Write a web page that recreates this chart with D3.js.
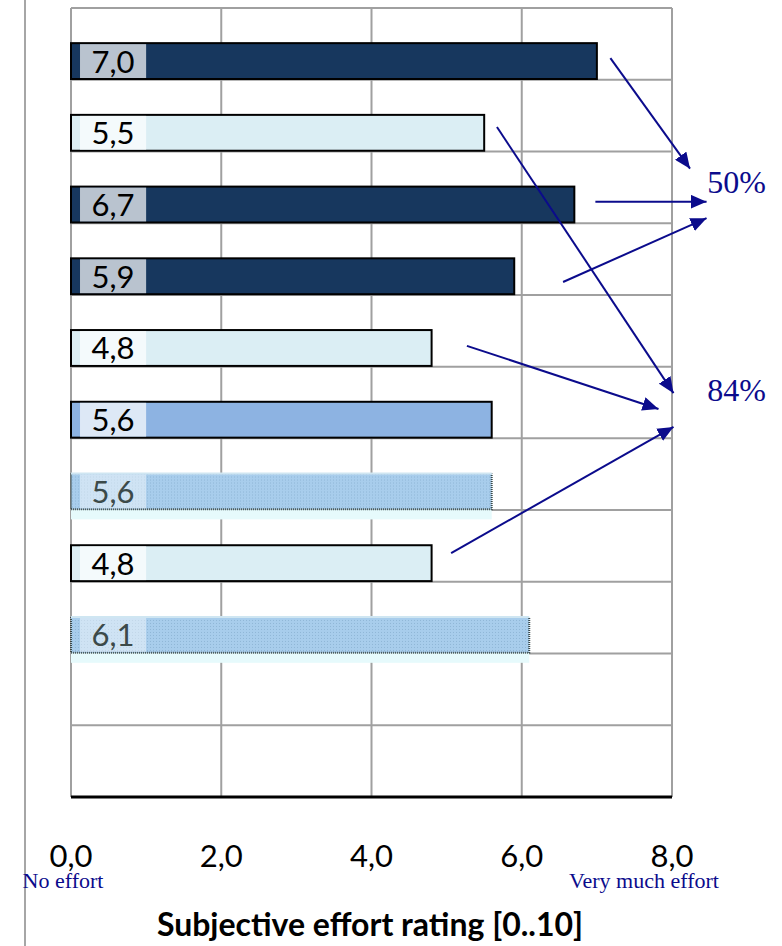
<!DOCTYPE html>
<html>
<head>
<meta charset="utf-8">
<script src="https://cdn.jsdelivr.net/npm/d3@7"></script>
<style>
  body { margin: 0; background: #fff; }
  svg { display: block; }
</style>
</head>
<body>
<script>
// bar values, top to bottom
const values = [7.0, 5.5, 6.7, 5.9, 4.8, 5.6, 5.6, 4.8, 6.1];
// fill style of each bar
const kinds = ["dark", "light", "dark", "dark", "light", "medium", "pattern", "light", "pattern"];
const rowCount = 11; // two empty rows at the bottom
const ticks = [0, 2, 4, 6, 8];
const tickLabels = ["0,0", "2,0", "4,0", "6,0", "8,0"];
// arrows: from [value, row] to [value, row]
const arrows = [
  [[7.18, 0.70], [8.24, 2.24]],
  [[6.98, 2.70], [8.46, 2.70]],
  [[6.55, 3.82], [8.46, 2.93]],
  [[5.67, 1.66], [8.02, 5.37]],
  [[5.27, 4.71], [7.82, 5.59]],
  [[5.06, 7.60], [8.02, 5.84]]
];
const percents = [["50%", 8.47, 2.58], ["84%", 8.47, 5.48]];

const width = 782, height = 946;
const navy = "#0b0b8c";
const fills = { dark: "#17375e", light: "#dbeef4", medium: "#8db3e2", pattern: "url(#dots)" };

const svg = d3.select("body").append("svg")
  .attr("width", width).attr("height", height);

const defs = svg.append("defs");
const pat = defs.append("pattern").attr("id", "dots")
  .attr("width", 3).attr("height", 3).attr("patternUnits", "userSpaceOnUse");
pat.append("rect").attr("width", 3).attr("height", 3).attr("fill", "#a8cdec");
pat.append("rect").attr("width", 1).attr("height", 1).attr("fill", "#8fb6d6");
defs.append("marker").attr("id", "head")
  .attr("viewBox", "0 0 16 14").attr("refX", 16).attr("refY", 7)
  .attr("markerWidth", 16).attr("markerHeight", 14)
  .attr("markerUnits", "userSpaceOnUse").attr("orient", "auto")
  .append("path").attr("d", "M0,0L16,7L0,14Z").attr("fill", navy);

const x = d3.scaleLinear().domain([0, 8]).range([71, 672]);
const y = d3.scaleBand().domain(d3.range(rowCount)).range([8, 797]);
const yr = d3.scaleLinear().domain([0, rowCount]).range([8, 797]);
const bw = y.bandwidth();

// left page line
svg.append("line").attr("x1", 25).attr("x2", 25).attr("y1", 0).attr("y2", height)
  .attr("stroke", "#a6a6a6").attr("stroke-width", 2);

// grid
const grid = svg.append("g").attr("stroke", "#a0a0a0").attr("stroke-width", 2);
grid.selectAll(".h").data(d3.range(rowCount)).join("line")
  .attr("x1", x(0)).attr("x2", x(8))
  .attr("y1", d => y(d)).attr("y2", d => y(d));
grid.selectAll(".v").data(ticks).join("line")
  .attr("x1", d => x(d)).attr("x2", d => x(d))
  .attr("y1", y(0)).attr("y2", y.range()[1]);

// bars
const bars = svg.append("g").selectAll("g").data(values).join("g")
  .attr("transform", (d, i) => `translate(0,${y(i) + bw * 0.49})`);
const bh = bw * 0.5;

bars.filter((d, i) => kinds[i] === "pattern").append("rect")
  .attr("x", x(0)).attr("y", bh).attr("width", d => x(d) - x(0)).attr("height", 10)
  .attr("fill", "#e6fafc");
bars.append("rect")
  .attr("x", x(0)).attr("y", 0)
  .attr("width", d => x(d) - x(0)).attr("height", bh)
  .attr("fill", (d, i) => fills[kinds[i]])
  .attr("stroke", (d, i) => kinds[i] === "pattern" ? "none" : "#000")
  .attr("stroke-width", 2);
const pb = bars.filter((d, i) => kinds[i] === "pattern");
pb.append("path")
  .attr("d", d => `M${x(0)},0V${bh}H${x(d)}V0`)
  .attr("fill", "none").attr("stroke", "#3a4a4a").attr("stroke-width", 2)
  .attr("stroke-dasharray", "1,1");
pb.append("line").attr("x1", x(0)).attr("x2", d => x(d)).attr("y1", 0).attr("y2", 0)
  .attr("stroke", "#cfe6f2").attr("stroke-width", 2);

// value labels
bars.append("rect")
  .attr("x", x(0.12)).attr("y", 1).attr("width", x(1.0) - x(0.12)).attr("height", bh - 2)
  .attr("fill", "#fff").attr("fill-opacity", (d, i) => kinds[i] === "pattern" ? 0.45 : 0.7);
bars.append("text")
  .attr("x", x(0.56)).attr("y", bh / 2 + 11.5)
  .attr("text-anchor", "middle")
  .attr("font-family", "Lato, sans-serif").attr("font-size", 31)
  .attr("fill", (d, i) => kinds[i] === "pattern" ? "#3c4a4a" : "#000")
  .text(d => d.toFixed(1).replace(".", ","));

// axis
svg.append("line").attr("x1", x(0)).attr("x2", x(8))
  .attr("y1", 797).attr("y2", 797).attr("stroke", "#000").attr("stroke-width", 3);
svg.append("g").selectAll("text").data(ticks).join("text")
  .attr("x", d => x(d)).attr("y", 867)
  .attr("text-anchor", "middle")
  .attr("font-family", "Lato, sans-serif").attr("font-size", 31)
  .text((d, i) => tickLabels[i]);

const serif = "'Liberation Serif', serif";
svg.append("text").attr("x", x(0) - 8).attr("y", 888).attr("text-anchor", "middle")
  .attr("font-family", serif).attr("font-size", 22).attr("fill", navy).text("No effort");
svg.append("text").attr("x", x(8) - 28).attr("y", 888).attr("text-anchor", "middle")
  .attr("font-family", serif).attr("font-size", 22).attr("fill", navy).text("Very much effort");

svg.append("text").attr("x", 370).attr("y", 936).attr("text-anchor", "middle")
  .attr("font-family", "Lato, sans-serif").attr("font-weight", "bold").attr("font-size", 32)
  .text("Subjective effort rating [0..10]");

// annotation arrows
svg.append("g").selectAll("line").data(arrows).join("line")
  .attr("x1", d => x(d[0][0])).attr("y1", d => yr(d[0][1]))
  .attr("x2", d => x(d[1][0])).attr("y2", d => yr(d[1][1]))
  .attr("stroke", navy).attr("stroke-width", 2)
  .attr("marker-end", "url(#head)");
svg.append("g").selectAll("text").data(percents).join("text")
  .attr("x", d => x(d[1])).attr("y", d => yr(d[2]))
  .attr("font-family", serif).attr("font-size", 32).attr("fill", navy)
  .text(d => d[0]);
</script>
</body>
</html>
